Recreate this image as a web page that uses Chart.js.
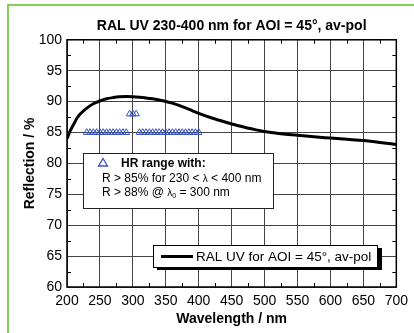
<!DOCTYPE html>
<html>
<head>
<meta charset="utf-8">
<script src="https://cdn.jsdelivr.net/npm/chart.js@4/dist/chart.umd.min.js"></script>
<style>
  html, body { margin: 0; padding: 0; background: #fff; overflow: hidden; }
  #rahmen { position: absolute; left: 7px; top: 4px; width: 420px; height: 340px;
            border-left: 2px solid #86cc5c; border-top: 2px solid #86cc5c; }
  #box { position: absolute; left: 0; top: 0; width: 414px; height: 333px; }
</style>
</head>
<body>
<div id="rahmen"></div>
<div id="box"><canvas id="grafico"></canvas></div>
<script>
// Kurve: RAL UV, AOI = 45°, av-pol
const wellenlaenge = [200, 205, 210, 215, 220, 225, 230, 240, 250, 260, 270, 280, 290, 300,
  310, 320, 330, 340, 350, 360, 370, 380, 390, 400, 420, 440, 460, 480, 500,
  525, 550, 575, 600, 625, 650, 675, 700];
const reflexion = [84.0, 85.3, 86.3, 87.3, 88.0, 88.5, 88.95, 89.65, 90.1, 90.45, 90.65, 90.78, 90.82, 90.8,
  90.72, 90.6, 90.45, 90.25, 90.02, 89.75, 89.4, 89.0, 88.55, 88.1, 87.35, 86.7, 86.1, 85.6, 85.15,
  84.8, 84.55, 84.3, 84.1, 83.9, 83.7, 83.4, 83.05];

// HR-Bereich (Dreiecke)
const hr85Wl = [230, 235, 240, 245, 250, 255, 260, 265, 270, 275, 280, 285, 290,
  310, 315, 320, 325, 330, 335, 340, 345, 350, 355, 360, 365, 370, 375, 380, 385, 390, 395, 400];
const hr85R = [85, 85, 85, 85, 85, 85, 85, 85, 85, 85, 85, 85, 85,
  85, 85, 85, 85, 85, 85, 85, 85, 85, 85, 85, 85, 85, 85, 85, 85, 85, 85, 85];
const hr88Wl = [295, 300, 305];
const hr88R = [88, 88, 88];

// Achsen
const xTicks = [200, 250, 300, 350, 400, 450, 500, 550, 600, 650, 700];
const yTicks = [60, 65, 70, 75, 80, 85, 90, 95, 100];

const titel = "RAL UV 230-400 nm for AOI = 45°, av-pol";
const kurveLabel = "RAL UV for AOI = 45°, av-pol";
const hrLabel = "HR range with:";
const blau = "#3552c4";

const punkte = (xs, ys) => xs.map((v, i) => ({ x: v, y: ys[i] }));

// Text in Stücken zeichnen (für λ und Index)
function stueckeText(ctx, x, y, teile) {
  teile.forEach(t => {
    ctx.font = t.font;
    ctx.fillText(t.text, x, y + (t.dy || 0));
    x += ctx.measureText(t.text).width;
  });
}

const rahmenPlugin = {
  id: "rahmen",
  afterDraw(chart) {
    const { ctx, chartArea: a, scales: { x, y } } = chart;
    ctx.save();

    // Rahmen
    ctx.strokeStyle = "#000";
    ctx.lineWidth = 1.5;
    ctx.strokeRect(a.left, a.top, a.right - a.left, a.bottom - a.top);

    // kleine Striche innen
    ctx.lineWidth = 1;
    ctx.beginPath();
    for (let i = 0; i < xTicks.length - 1; i++) {
      const px = Math.round(x.getPixelForValue((xTicks[i] + xTicks[i + 1]) / 2)) + 0.5;
      ctx.moveTo(px, a.bottom); ctx.lineTo(px, a.bottom - 4);
      ctx.moveTo(px, a.top); ctx.lineTo(px, a.top + 4);
    }
    for (let i = 0; i < yTicks.length - 1; i++) {
      const py = Math.round(y.getPixelForValue((yTicks[i] + yTicks[i + 1]) / 2)) + 0.5;
      ctx.moveTo(a.left, py); ctx.lineTo(a.left + 4, py);
      ctx.moveTo(a.right, py); ctx.lineTo(a.right - 4, py);
    }
    ctx.stroke();

    // Legende 1: HR-Bereich
    ctx.fillStyle = "#fff";
    ctx.fillRect(83.5, 153.5, 190, 55);
    ctx.strokeStyle = "#222";
    ctx.strokeRect(83.5, 153.5, 190, 55);

    ctx.strokeStyle = blau;
    ctx.lineWidth = 1.3;
    ctx.beginPath();
    ctx.moveTo(103, 158.5); ctx.lineTo(107.5, 166); ctx.lineTo(98.5, 166); ctx.closePath();
    ctx.stroke();

    ctx.fillStyle = "#000";
    ctx.textBaseline = "middle";
    ctx.textAlign = "left";
    ctx.font = "bold 12px 'Liberation Sans', Arial, sans-serif";
    ctx.fillText(hrLabel, 121, 164);
    const f = "12px 'Liberation Sans', Arial, sans-serif";
    const fk = "10px 'Liberation Sans', Arial, sans-serif";
    const fi = "7px 'Liberation Sans', Arial, sans-serif";
    stueckeText(ctx, 102, 179, [
      { text: "R > 85% for 230 < ", font: f },
      { text: "λ", font: fk },
      { text: " < 400 nm", font: f }
    ]);
    stueckeText(ctx, 102, 193, [
      { text: "R > 88% @ ", font: f },
      { text: "λ", font: fk },
      { text: "0", font: fi, dy: 3 },
      { text: " = 300 nm", font: f }
    ]);

    // Legende 2: Kurve
    ctx.fillStyle = "#000";
    ctx.fillRect(157, 248, 225, 22);
    ctx.fillStyle = "#fff";
    ctx.fillRect(153.5, 245.5, 224, 22);
    ctx.strokeStyle = "#000";
    ctx.lineWidth = 1;
    ctx.strokeRect(153.5, 245.5, 224, 22);
    ctx.lineWidth = 3;
    ctx.beginPath();
    ctx.moveTo(161, 256.5); ctx.lineTo(193, 256.5);
    ctx.stroke();
    ctx.fillStyle = "#000";
    ctx.font = "13.5px 'Liberation Sans', Arial, sans-serif";
    ctx.fillText(kurveLabel, 196, 257);

    ctx.restore();
  }
};

const ctx = document.getElementById("grafico").getContext("2d");
new Chart(ctx, {
  type: "scatter",
  data: {
    datasets: [
      {
        label: kurveLabel,
        data: punkte(wellenlaenge, reflexion),
        showLine: true,
        borderColor: "#000",
        borderWidth: 3,
        pointRadius: 0,
        cubicInterpolationMode: "monotone",
        order: 0
      },
      {
        label: hrLabel,
        data: punkte(hr85Wl, hr85R).concat(punkte(hr88Wl, hr88R)),
        showLine: false,
        pointStyle: "triangle",
        pointRadius: 3.8,
        borderWidth: 1,
        borderColor: blau,
        backgroundColor: "rgba(0,0,0,0)",
        order: 1
      }
    ]
  },
  options: {
    responsive: true,
    maintainAspectRatio: false,
    animation: false,
    devicePixelRatio: 1,
    layout: { padding: { left: 0, right: 15, top: 0, bottom: 0 } },
    plugins: {
      legend: { display: false },
      tooltip: { enabled: false },
      title: {
        display: true,
        text: titel,
        fullSize: false,
        color: "#000",
        font: { family: "'Liberation Sans', Arial, sans-serif", size: 14, weight: "bold" },
        padding: { top: 18, bottom: 5 }
      }
    },
    scales: {
      x: {
        type: "linear",
        min: 200,
        max: 700,
        afterBuildTicks: s => { s.ticks = xTicks.map(v => ({ value: v })); },
        afterFit: s => { s.height = 46; },
        grid: { color: "#444", lineWidth: 1, drawTicks: false },
        border: { display: false },
        ticks: {
          color: "#000",
          padding: 6,
          maxRotation: 0,
          font: { family: "'Liberation Sans', Arial, sans-serif", size: 14 }
        },
        title: {
          display: true,
          text: "Wavelength / nm",
          color: "#000",
          font: { family: "'Liberation Sans', Arial, sans-serif", size: 14, weight: "bold" },
          padding: { top: 0, bottom: 5 }
        }
      },
      y: {
        type: "linear",
        min: 60,
        max: 100,
        afterBuildTicks: s => { s.ticks = yTicks.map(v => ({ value: v })); },
        afterFit: s => { s.width = 67; },
        grid: { color: "#444", lineWidth: 1, drawTicks: false },
        border: { display: false },
        ticks: {
          color: "#000",
          padding: 5,
          font: { family: "'Liberation Sans', Arial, sans-serif", size: 14 }
        },
        title: {
          display: true,
          text: "Reflection / %",
          color: "#000",
          font: { family: "'Liberation Sans', Arial, sans-serif", size: 14, weight: "bold" },
          padding: { top: 22, bottom: 0 }
        }
      }
    }
  },
  plugins: [rahmenPlugin]
});
</script>
</body>
</html>
